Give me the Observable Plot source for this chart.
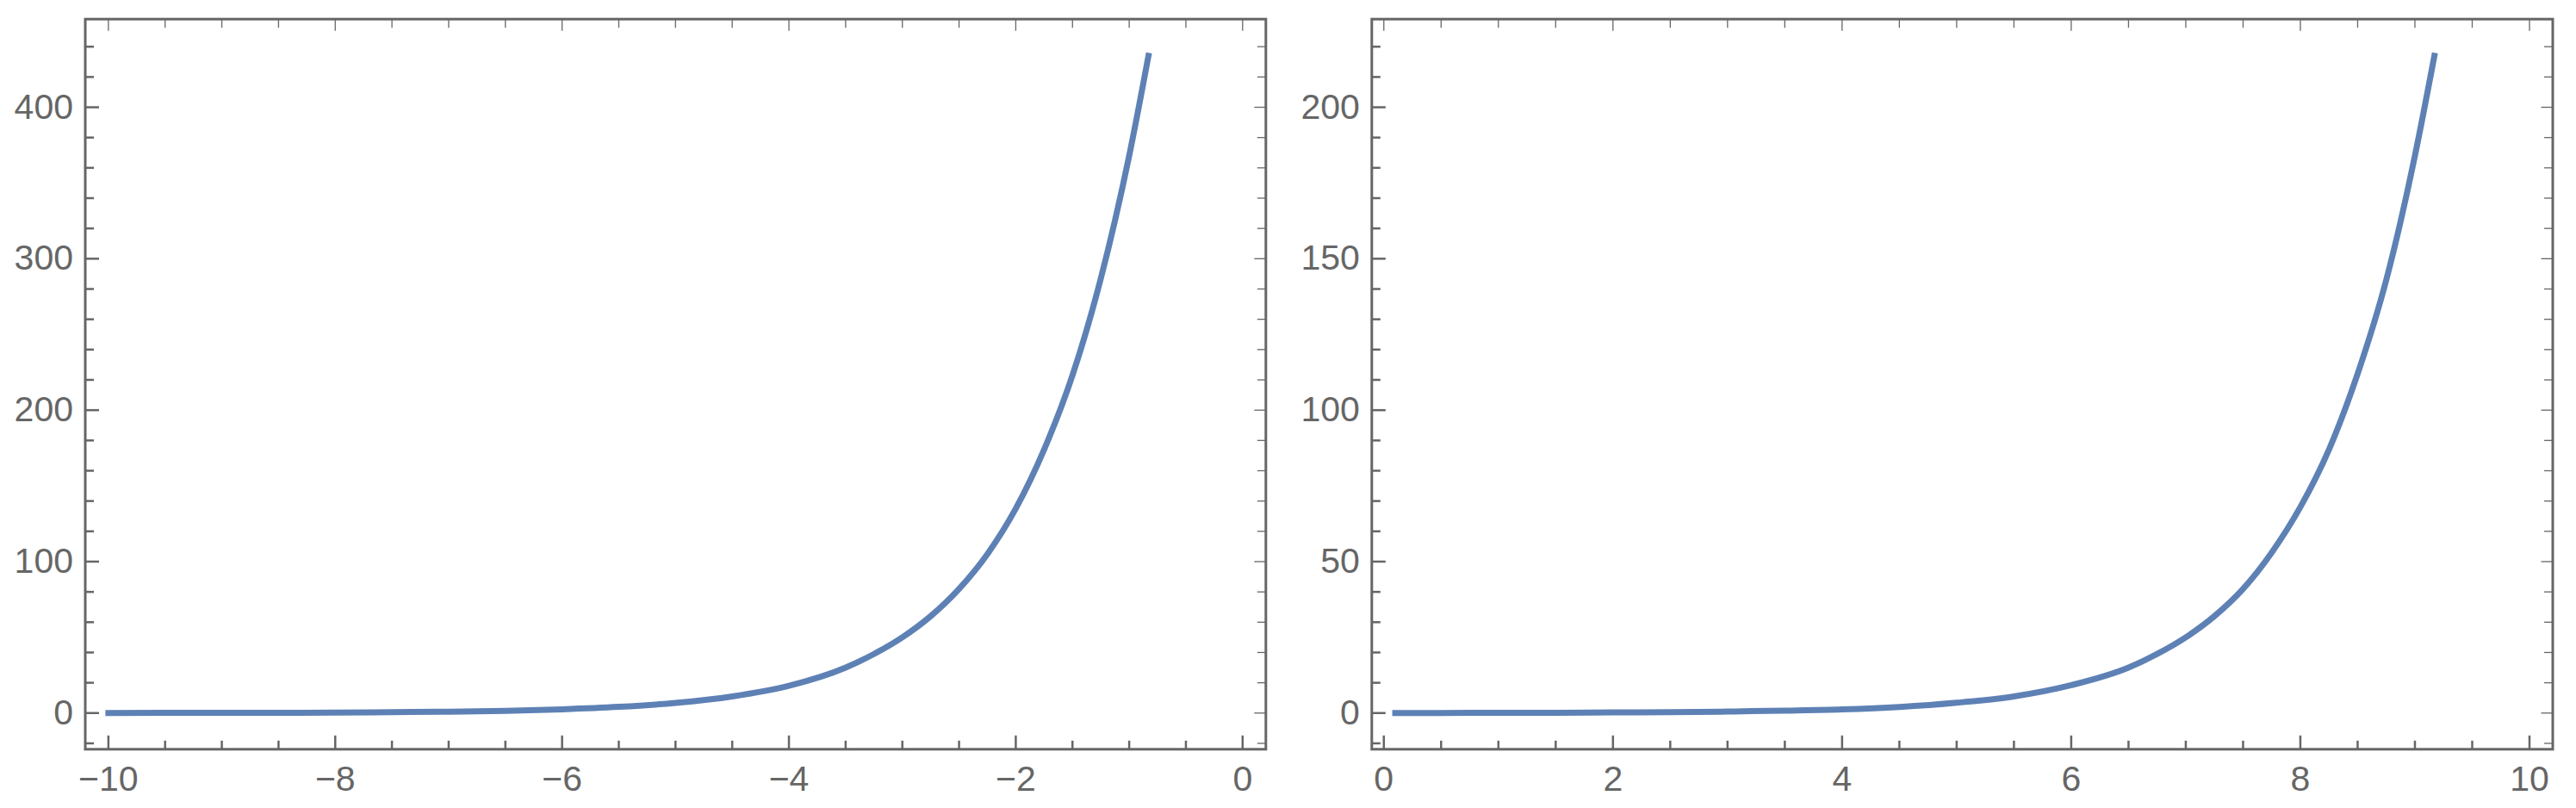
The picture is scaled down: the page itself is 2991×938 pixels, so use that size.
<!DOCTYPE html>
<html>
<head>
<meta charset="utf-8">
<script src="https://cdn.jsdelivr.net/npm/d3@7"></script>
<script src="https://cdn.jsdelivr.net/npm/@observablehq/plot@0.6"></script>
<style>
html, body { margin: 0; padding: 0; background: #fff; }
#wrap { display: flex; width: 2991px; height: 938px; }
#wrap svg { display: block; overflow: visible; flex: none; }
</style>
</head>
<body>
<div id="wrap"></div>
<script>
// ---- Left panel data ----
const leftX = [-10, -9.5, -9, -8.5, -8, -7.5, -7, -6.5, -6, -5.5, -5, -4.5, -4, -3.5, -3.25, -3, -2.75, -2.5, -2.25, -2, -1.75, -1.5, -1.25, -1, -0.83];
const leftY = [0, 0.1, 0.1, 0.2, 0.3, 0.6, 0.9, 1.5, 2.5, 4.1, 6.7, 11, 18, 30, 39, 50, 64, 82, 105, 135, 174, 223, 287, 368, 434];

// ---- Right panel data ----
const rightX = [0.1, 0.5, 1, 1.5, 2, 2.5, 3, 3.5, 4, 4.5, 5, 5.5, 6, 6.5, 6.75, 7, 7.25, 7.5, 7.75, 8, 8.25, 8.5, 8.75, 9, 9.17];
const rightY = [0, 0, 0.1, 0.1, 0.2, 0.3, 0.5, 0.8, 1.2, 2, 3.4, 5.5, 9.2, 15, 19.5, 25, 32, 41, 53, 68, 87, 112, 143, 184, 217];

// ---- Tick values and labels ----
const leftXTicks = [-10, -8, -6, -4, -2, 0];
const leftXLabels = ["−10", "−8", "−6", "−4", "−2", "0"];
const leftYTicks = [0, 100, 200, 300, 400];
const leftYLabels = ["0", "100", "200", "300", "400"];
const rightXTicks = [0, 2, 4, 6, 8, 10];
const rightXLabels = ["0", "2", "4", "6", "8", "10"];
const rightYTicks = [0, 50, 100, 150, 200];
const rightYLabels = ["0", "50", "100", "150", "200"];

const LINE_COLOR = "#5E81B5";
const GRAY = "#666666";
const FONT = "'Liberation Sans', Arial, sans-serif";

const tickShape = { draw(ctx, l) { ctx.moveTo(0, 0); ctx.lineTo(0, -l); } };

function minorTicks(lo, hi, step, majors) {
  return d3.range(lo, hi + step / 2, step).map(v => +v.toFixed(6)).filter(v => !majors.includes(v));
}

function panel({xs, ys, xTicks, xLabels, yTicks, yLabels, xMinor, yMinor, xDomain, yDomain, width, marginLeft, marginRight}) {
  const rows = xs.map((x, i) => ({x, y: ys[i]}));
  const xLab = new Map(xTicks.map((t, i) => [t, xLabels[i]]));
  const yLab = new Map(yTicks.map((t, i) => [t, yLabels[i]]));
  const tk = (data, opts, len, sw) => Plot.vector(data, {...opts, length: len, shape: tickShape, anchor: "start", stroke: GRAY, strokeWidth: sw, strokeLinecap: "butt"});
  return Plot.plot({
    width, height: 938,
    marginLeft, marginRight, marginTop: 21.7, marginBottom: 68.7,
    x: {domain: xDomain, axis: null},
    y: {domain: yDomain, axis: null},
    style: {fontFamily: FONT, background: "#fff"},
    marks: [
      // bottom ticks (thick)
      tk(xTicks, {x: d => d, frameAnchor: "bottom", rotate: 0}, 16, 2.5),
      tk(xMinor, {x: d => d, frameAnchor: "bottom", rotate: 0}, 10, 2.5),
      // top ticks (thin)
      tk(xTicks, {x: d => d, frameAnchor: "top", rotate: 180}, 13.5, 1.3),
      tk(xMinor, {x: d => d, frameAnchor: "top", rotate: 180}, 10, 1.3),
      // left ticks (thick)
      tk(yTicks, {y: d => d, frameAnchor: "left", rotate: 90}, 16, 2.5),
      tk(yMinor, {y: d => d, frameAnchor: "left", rotate: 90}, 10, 2.5),
      // right ticks (thin)
      tk(yTicks, {y: d => d, frameAnchor: "right", rotate: 270}, 13.5, 1.3),
      tk(yMinor, {y: d => d, frameAnchor: "right", rotate: 270}, 10, 1.3),
      Plot.line(rows, {x: "x", y: "y", stroke: LINE_COLOR, strokeWidth: 7, strokeLinecap: "square", curve: "monotone-x"}),
      Plot.frame({stroke: GRAY, strokeWidth: 3}),
      Plot.axisX({anchor: "bottom", ticks: xTicks, tickSize: 0, tickPadding: 19, tickFormat: d => xLab.get(d), fontSize: 41, fontFamily: FONT, fill: GRAY, label: null}),
      Plot.axisY({anchor: "left", ticks: yTicks, tickSize: 0, tickPadding: 14, tickFormat: d => yLab.get(d), fontSize: 41, fontFamily: FONT, fill: GRAY, label: null})
    ]
  });
}

const left = panel({
  xs: leftX, ys: leftY,
  xTicks: leftXTicks, xLabels: leftXLabels,
  yTicks: leftYTicks, yLabels: leftYLabels,
  xMinor: minorTicks(-10, 0, 0.5, leftXTicks),
  yMinor: minorTicks(-20, 440, 20, leftYTicks),
  xDomain: [-10.204, 0.205], yDomain: [-23.9, 458.2],
  width: 1495, marginLeft: 98.5, marginRight: 25.7
});
const right = panel({
  xs: rightX, ys: rightY,
  xTicks: rightXTicks, xLabels: rightXLabels,
  yTicks: rightYTicks, yLabels: rightYLabels,
  xMinor: minorTicks(0, 10, 0.5, rightXTicks),
  yMinor: minorTicks(-10, 220, 10, rightYTicks),
  xDomain: [-0.105, 10.203], yDomain: [-11.95, 229.1],
  width: 1496, marginLeft: 97.3, marginRight: 27.5
});
document.getElementById("wrap").append(left, right);
</script>
</body>
</html>
